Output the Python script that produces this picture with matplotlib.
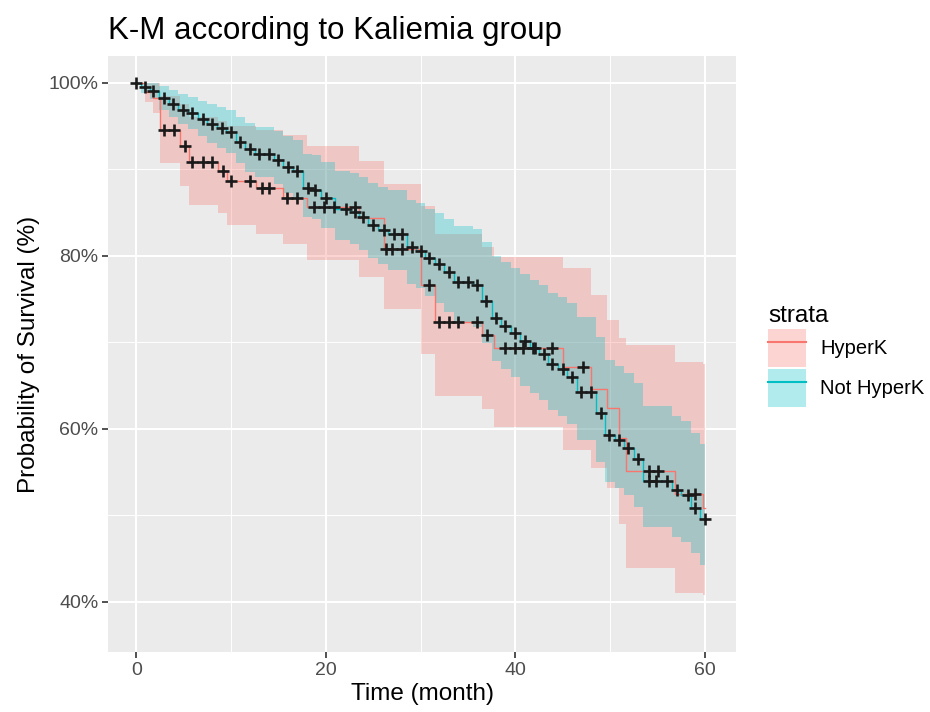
import numpy as np
import matplotlib
matplotlib.use("Agg")
from matplotlib import pyplot as plt
from matplotlib.patches import Patch
from matplotlib.lines import Line2D

plt.rcParams['font.family'] = ['Liberation Sans', 'DejaVu Sans']

# Not HyperK: step start time, survival (%), lower CI, upper CI
notk_time = [0, 0.5, 1.4, 2.4, 3.4, 4.4, 5.4, 6.5, 7.5, 8.5, 9.5, 10.5, 11.5, 12.5,
             14.5, 15.5, 16.5, 17.6, 18.5, 19.5, 21.0, 22.6, 23.5, 24.5, 25.5, 26.6,
             28.6, 29.5, 30.5, 31.5, 32.5, 33.5, 35.5, 36.5, 37.5, 38.5, 39.5, 40.5,
             41.5, 42.5, 43.5, 44.5, 45.5, 46.5, 48.5, 49.5, 50.5, 51.5, 52.5, 53.5,
             56.5, 57.5, 58.5, 59.5]
notk_surv = [100, 99.5, 99.1, 98.2, 97.6, 96.9, 96.5, 95.8, 95.2, 94.8, 94.3, 93.2, 92.3, 91.8,
             91.1, 90.3, 89.8, 87.8, 87.6, 86.7, 85.4, 85.1, 84.5, 83.6, 83.0, 82.5,
             81.0, 80.6, 79.7, 79.0, 78.1, 77.0, 76.6, 74.8, 72.8, 71.9, 71.1, 70.2,
             69.3, 68.6, 67.5, 66.9, 66.0, 64.2, 61.8, 59.3, 58.7, 57.8, 56.5, 54.0,
             52.9, 52.3, 50.9, 49.6]
notk_lo = [100, 98.8, 98.1, 96.9, 96.1, 95.2, 94.7, 93.8, 93.1, 92.5, 91.9, 90.7, 89.7, 89.1,
           88.3, 87.3, 86.7, 84.5, 84.2, 83.2, 81.8, 81.4, 80.7, 79.7, 79.0, 78.4,
           76.8, 76.3, 75.3, 74.5, 73.5, 72.3, 71.8, 69.9, 67.8, 66.9, 66.0, 65.0,
           64.1, 63.3, 62.2, 61.5, 60.6, 58.7, 56.2, 53.8, 53.2, 52.3, 51.0, 48.6,
           47.5, 46.9, 45.6, 44.3]
notk_hi = [100, 100, 100, 99.6, 99.2, 98.7, 98.4, 97.9, 97.5, 97.2, 96.9, 96.0, 95.3, 94.9,
           94.4, 93.8, 93.4, 91.8, 91.6, 90.9, 89.8, 89.6, 89.1, 88.4, 87.9, 87.6,
           86.4, 86.1, 85.4, 84.9, 84.2, 83.4, 83.1, 81.6, 80.0, 79.3, 78.6, 77.9,
           77.2, 76.6, 75.7, 75.2, 74.5, 72.9, 70.6, 67.9, 67.3, 66.5, 65.3, 62.6,
           61.5, 60.9, 59.5, 58.2]
notk_censor = [0, 0.95, 1.8, 2.9, 3.9, 4.9, 5.9, 7.0, 8.0, 9.0, 10.0, 10.9, 12.0, 12.9,
               14.0, 15.0, 16.0, 17.0, 18.1, 18.9, 20.0, 22.1, 23.1, 23.9, 25.0, 26.1,
               27.2, 28.0, 29.1, 30.0, 30.9, 31.9, 33.0, 34.0, 35.0, 36.0, 36.9, 38.0,
               38.9, 40.0, 41.0, 42.1, 43.0, 43.9, 45.0, 46.0, 46.9, 48.0, 49.0, 49.9,
               51.0, 51.9, 53.0, 54.1, 54.9, 56.0, 57.1, 58.2, 59.0, 60.0]

# HyperK
hyper_time = [0, 0.9, 1.8, 2.5, 4.6, 5.6, 8.6, 9.6, 12.6, 15.5, 18.0, 23.5, 26.1, 30.0,
              31.5, 36.5, 37.7, 45.0, 48.0, 49.7, 50.9, 51.7, 56.9, 59.8]
hyper_surv = [100, 98.9, 98.2, 94.5, 92.7, 90.8, 89.8, 88.7, 87.8, 86.7, 85.6, 84.4, 80.8, 76.6,
              72.4, 70.9, 69.4, 67.1, 64.6, 62.4, 58.9, 55.1, 52.5, 50.9]
hyper_lo = [100, 97.8, 96.5, 90.7, 88.1, 85.9, 84.9, 83.6, 82.5, 81.4, 79.5, 77.5, 73.9, 68.6,
            63.8, 62.3, 60.2, 57.6, 55.5, 53.2, 49.0, 43.9, 41.0, 40.8]
hyper_hi = [100, 100, 100, 98.5, 97.5, 96.0, 95.6, 95.0, 94.5, 94.0, 92.7, 91.0, 88.3, 85.8,
            82.5, 81.0, 79.9, 78.6, 75.5, 72.6, 70.5, 69.7, 67.7, 67.5]
hyper_censor = [2.9, 4.0, 5.1, 5.9, 7.0, 8.0, 9.1, 10.0, 12.0, 13.3, 14.0, 15.9, 17.0,
                18.7, 19.8, 20.9, 23.1, 26.3, 27.0, 28.0, 30.9, 31.9, 33.0, 34.0, 36.0,
                37.0, 38.9, 40.0, 40.8, 41.9, 43.9, 47.1, 54.1, 55.1, 59.0]

END_TIME = 60
RED = '#F8766D'
TEAL = '#00BFC4'


def draw_group(ax, t, s, lo, hi, censor, color):
    t = list(t) + [END_TIME]
    s = list(s) + [s[-1]]
    lo = list(lo) + [lo[-1]]
    hi = list(hi) + [hi[-1]]
    ax.fill_between(t, lo, hi, step='post', color=color, alpha=0.3, linewidth=0)
    ax.step(t, s, where='post', color=color, linewidth=1.0)
    idx = np.searchsorted(t, censor, side='right') - 1
    cy = np.array(s)[idx]
    return censor, cy


fig = plt.figure(figsize=(9.3, 7.12), dpi=100)
ax = fig.add_axes([108 / 930, 1 - 652 / 712, (736 - 108) / 930, (652 - 56) / 712])
ax.set_facecolor('#EBEBEB')
for sp in ax.spines.values():
    sp.set_visible(False)

ax.set_xlim(-3, 63.3)
ax.set_ylim(34.2, 103.1)
for x in [10, 30, 50]:
    ax.axvline(x, color='white', linewidth=0.7, zorder=0)
for y in [50, 70, 90]:
    ax.axhline(y, color='white', linewidth=0.7, zorder=0)
for x in [0, 20, 40, 60]:
    ax.axvline(x, color='white', linewidth=1.5, zorder=0)
for y in [40, 60, 80, 100]:
    ax.axhline(y, color='white', linewidth=1.5, zorder=0)

cx1, cy1 = draw_group(ax, hyper_time, hyper_surv, hyper_lo, hyper_hi, hyper_censor, RED)
cx2, cy2 = draw_group(ax, notk_time, notk_surv, notk_lo, notk_hi, notk_censor, TEAL)
ax.plot(cx1, cy1, linestyle='none', marker='+', color='#1a1a1a', markersize=9, markeredgewidth=1.9, zorder=5)
ax.plot(cx2, cy2, linestyle='none', marker='+', color='#1a1a1a', markersize=9, markeredgewidth=1.9, zorder=5)

ax.set_xticks([0, 20, 40, 60])
ax.set_yticks([40, 60, 80, 100])
ax.set_yticklabels(['40%', '60%', '80%', '100%'])
ax.tick_params(axis='both', colors='#333333', labelcolor='#4D4D4D', labelsize=14,
               length=4, width=1.2, pad=3)
ax.set_xlabel('Time (month)', fontsize=17.5, color='black', labelpad=3)
ax.set_ylabel('Probability of Survival (%)', fontsize=17.5, color='black', labelpad=6)

fig.text(108 / 930, 1 - 31 / 712, 'K-M according to Kaliemia group', fontsize=22.5,
         va='center', ha='left')

handles = [(Patch(facecolor=RED, alpha=0.3, edgecolor='none'), Line2D([], [], color=RED, lw=1.5)),
           (Patch(facecolor=TEAL, alpha=0.3, edgecolor='none'), Line2D([], [], color=TEAL, lw=1.5))]
leg = fig.legend(handles, ['HyperK', 'Not HyperK'], title='strata', loc='center left',
                 bbox_to_anchor=(768 / 930, 1 - 356 / 712), frameon=False, fontsize=14.5,
                 title_fontsize=17.5, handlelength=1.9, handleheight=2.5, handletextpad=0.7,
                 labelspacing=0.1, borderpad=0, borderaxespad=0)
leg._legend_box.align = 'left'

fig.savefig('out.png', dpi=100)
